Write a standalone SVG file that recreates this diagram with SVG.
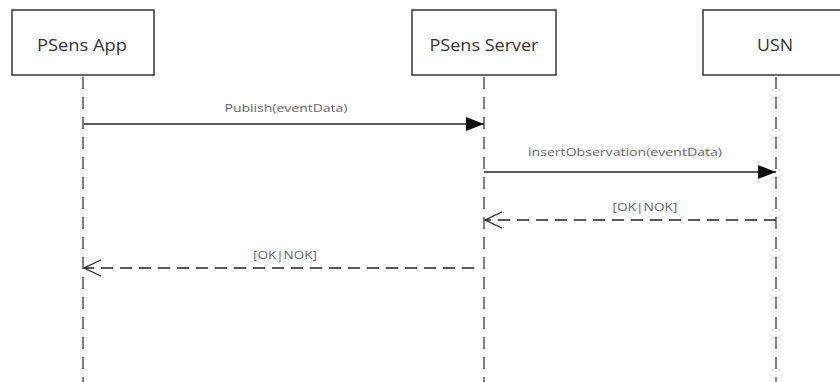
<svg xmlns="http://www.w3.org/2000/svg" width="840" height="382" viewBox="0 0 840 382">
<style>
.box{fill:#fff;stroke:#333;stroke-width:1.5}
.title{font-family:"Open Sans","Noto Sans",sans-serif;font-size:16.5px;fill:#333;text-anchor:middle}
.life{stroke:#555;stroke-width:1.5;stroke-dasharray:12,8;fill:none}
.msg{stroke:#222;stroke-width:1.5;fill:none}
.ret{stroke:#222;stroke-width:1.5;fill:none;stroke-dasharray:12,7}
.lbl{font-family:"Open Sans","Noto Sans",sans-serif;font-size:11.5px;fill:#666;text-anchor:middle}
</style>
<defs>
<marker id="filled" markerWidth="18" markerHeight="14" refX="18" refY="7" orient="auto" markerUnits="userSpaceOnUse">
<path d="M0,0 L18,7 L0,14 Z" fill="#111"/>
</marker>
<marker id="open" markerWidth="20" markerHeight="18" refX="18" refY="9" orient="auto" markerUnits="userSpaceOnUse">
<path d="M1,1 L18,9 L1,17" fill="none" stroke="#222" stroke-width="1.3"/>
</marker>
</defs>
<rect width="840" height="382" fill="#fff"/>
<g id="app">
<rect class="box" x="12" y="10" width="142" height="65"/>
<text class="title" x="82" y="51" textLength="90" lengthAdjust="spacingAndGlyphs">PSens App</text>
<line class="life" x1="83" y1="77" x2="83" y2="382"/>
</g>
<g id="server">
<rect class="box" x="412" y="10" width="144" height="65"/>
<text class="title" x="484" y="51" textLength="109" lengthAdjust="spacingAndGlyphs">PSens Server</text>
<line class="life" x1="484" y1="77" x2="484" y2="382"/>
</g>
<g id="usn">
<rect class="box" x="703" y="10" width="146" height="65"/>
<text class="title" x="775" y="51" textLength="36" lengthAdjust="spacingAndGlyphs">USN</text>
<line class="life" x1="776" y1="77" x2="776" y2="382"/>
</g>
<g id="connectors">
<line class="msg" x1="84" y1="124" x2="484" y2="124" marker-end="url(#filled)"/>
<text class="lbl" x="286" y="112" textLength="123" lengthAdjust="spacingAndGlyphs">Publish(eventData)</text>
<line class="msg" x1="484" y1="172" x2="776" y2="172" marker-end="url(#filled)"/>
<text class="lbl" x="625" y="156" textLength="194" lengthAdjust="spacingAndGlyphs">insertObservation(eventData)</text>
<line class="ret" x1="776" y1="220" x2="485" y2="220" marker-end="url(#open)"/>
<text class="lbl" x="645" y="211" textLength="65" lengthAdjust="spacingAndGlyphs">[OK|NOK]</text>
<line class="ret" x1="474" y1="268" x2="84" y2="268" marker-end="url(#open)"/>
<text class="lbl" x="285" y="259" textLength="64" lengthAdjust="spacingAndGlyphs">[OK|NOK]</text>
</g>
</svg>
